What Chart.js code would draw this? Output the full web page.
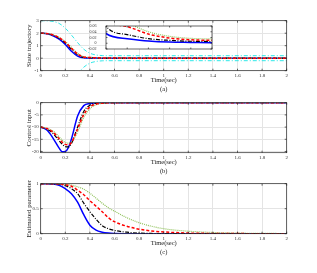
<!DOCTYPE html>
<html>
<head>
<meta charset="utf-8">
<title>State trajectory, control input and estimated parameter</title>
<script src="https://cdn.jsdelivr.net/npm/chart.js"></script>
<style>
  body { margin: 0; background: #fff; }
  #wrap { position: relative; width: 317px; height: 273px; overflow: hidden; }
  canvas { position: absolute; left: 0; }
</style>
</head>
<body>
<div id="wrap">
  <canvas id="chartA" width="317" height="93" style="top:0px"></canvas>
  <canvas id="chartB" width="317" height="93" style="top:82px"></canvas>
  <canvas id="chartC" width="317" height="93" style="top:163px"></canvas>
  <canvas id="inset" width="140" height="36" style="left:80px;top:20px"></canvas>
</div>
<script>
// ---- data ----
// (a) state trajectories and the prescribed bounds
const tA = [0, 0.05, 0.1, 0.15, 0.2, 0.25, 0.3, 0.35, 0.4, 0.45, 0.5, 0.55, 0.6, 0.7, 0.8, 1, 1.5, 2];
const blueA  = [2, 1.95, 1.8, 1.52, 1.1, 0.55, 0.17, 0.034, 0.016, 0.008, 0.004, 0.003, 0.002, 0.001, 0, 0, 0, 0];
const blackA = [2, 1.96, 1.84, 1.6, 1.22, 0.72, 0.28, 0.059, 0.03, 0.016, 0.01, 0.007, 0.006, 0.004, 0.002, 0.001, 0, 0];
const redA   = [2, 1.97, 1.86, 1.64, 1.28, 0.8, 0.34, 0.09, 0.058, 0.032, 0.018, 0.012, 0.01, 0.007, 0.005, 0.003, 0.001, 0];
const greenA = [2, 1.97, 1.87, 1.66, 1.32, 0.86, 0.4, 0.11, 0.07, 0.04, 0.024, 0.017, 0.015, 0.012, 0.01, 0.007, 0.003, 0.001];
const boundUpA  = [3, 2.99, 2.94, 2.78, 2.4, 1.85, 1.25, 0.72, 0.4, 0.26, 0.21, 0.2, 0.2, 0.2, 0.2, 0.2, 0.2, 0.2];
const boundLowA = [-3, -2.99, -2.94, -2.78, -2.4, -1.85, -1.25, -0.72, -0.4, -0.26, -0.21, -0.2, -0.2, -0.2, -0.2, -0.2, -0.2, -0.2];

// (b) control input
const tB = [0, 0.05, 0.1, 0.15, 0.175, 0.2, 0.225, 0.25, 0.3, 0.35, 0.4, 0.45, 0.5, 0.6, 1, 2];
const blueB  = [-10, -11.2, -14.5, -18.6, -20.1, -20, -18.4, -14.9, -5.5, -1.2, -0.3, -0.1, 0, 0, 0, 0];
const blackB = [-10, -10.8, -12.6, -15.6, -17, -18, -18.1, -16.7, -10, -3.6, -1, -0.3, -0.1, 0, 0, 0];
const redB   = [-10, -10.6, -12.1, -14.8, -16.2, -17.1, -17.3, -16.3, -10.8, -4.9, -1.7, -0.6, -0.2, 0, 0, 0];
const greenB = [-10, -10.5, -11.6, -14, -15.4, -16.3, -16.6, -16, -12, -6, -2.5, -0.9, -0.3, -0.05, 0, 0];

// (c) estimated parameter
const tC = [0, 0.1, 0.15, 0.2, 0.25, 0.3, 0.35, 0.4, 0.45, 0.5, 0.55, 0.6, 0.7, 0.8, 0.9, 1, 1.2, 1.4, 1.6, 2];
const blueC  = [1, 0.995, 0.97, 0.9, 0.8, 0.63, 0.38, 0.17, 0.07, 0.03, 0.012, 0.005, 0.001, 0, 0, 0, 0, 0, 0, 0];
const blackC = [1, 0.998, 0.99, 0.96, 0.9, 0.8, 0.61, 0.44, 0.29, 0.16, 0.1, 0.065, 0.03, 0.012, 0.005, 0.002, 0, 0, 0, 0];
const redC   = [1, 0.999, 0.995, 0.98, 0.95, 0.87, 0.78, 0.66, 0.55, 0.44, 0.32, 0.24, 0.15, 0.09, 0.055, 0.035, 0.013, 0.005, 0.002, 0];
const greenC = [1, 1, 0.998, 0.99, 0.97, 0.94, 0.89, 0.81, 0.71, 0.61, 0.52, 0.45, 0.32, 0.22, 0.15, 0.1, 0.05, 0.025, 0.012, 0.003];

// tick values
const xTicks = [0, 0.2, 0.4, 0.6, 0.8, 1, 1.2, 1.4, 1.6, 1.8, 2];
const yTicksA = [-1, 0, 1, 2, 3];
const yTicksB = [-20, -15, -10, -5, 0];
const yTicksC = [0, 0.5, 1];
const insetXTicks = [0.35, 0.4, 0.45, 0.5, 0.55, 0.6];
const insetYTicks = [-0.02, 0, 0.02, 0.04, 0.06];

// ---- styling ----
const serif = "'Liberation Serif', 'DejaVu Serif', serif";
const styles = {
  blue:  { borderColor: '#0000ff', borderWidth: 1.5, borderDash: [] },
  black: { borderColor: '#000000', borderWidth: 1.2, borderDash: [4, 1.5, 1, 1.5] },
  red:   { borderColor: '#ff0000', borderWidth: 1.5, borderDash: [3, 2] },
  green: { borderColor: '#8fc15a', borderWidth: 1.2, borderDash: [1, 1] },
  bound: { borderColor: '#2ee8e8', borderWidth: 1, borderDash: [4, 2, 1, 2] }
};

function pts(t, v) {
  return t.map((x, i) => ({ x: x, y: v[i] }));
}

function line(t, v, style) {
  return Object.assign({
    data: pts(t, v),
    pointRadius: 0,
    fill: false,
    cubicInterpolationMode: 'monotone'
  }, styles[style]);
}

// box around the axes with inward tick marks, like the original figure
const boxPlugin = {
  id: 'box',
  beforeDraw(chart, args, opts) {
    if (!opts.fill) return;
    const a = chart.chartArea, ctx = chart.ctx;
    ctx.save();
    ctx.fillStyle = '#fff';
    ctx.fillRect(a.left, a.top, a.right - a.left, a.bottom - a.top);
    ctx.restore();
  },
  afterDraw(chart, args, opts) {
    const a = chart.chartArea, ctx = chart.ctx, L = opts.tick;
    const sx = chart.scales.x, sy = chart.scales.y;
    ctx.save();
    ctx.strokeStyle = '#262626';
    ctx.lineWidth = 0.7;
    ctx.strokeRect(a.left, a.top, a.right - a.left, a.bottom - a.top);
    ctx.beginPath();
    sx.ticks.forEach(t => {
      const p = sx.getPixelForValue(t.value);
      ctx.moveTo(p, a.bottom); ctx.lineTo(p, a.bottom - L);
      ctx.moveTo(p, a.top); ctx.lineTo(p, a.top + L);
    });
    sy.ticks.forEach(t => {
      const p = sy.getPixelForValue(t.value);
      ctx.moveTo(a.left, p); ctx.lineTo(a.left + L, p);
      ctx.moveTo(a.right, p); ctx.lineTo(a.right - L, p);
    });
    ctx.stroke();
    ctx.restore();
  }
};

const fmt = v => String(+Number(v).toFixed(2));

function panel(id, datasets, yMin, yMax, yTicks, yTitle, caption) {
  return new Chart(document.getElementById(id), {
    type: 'line',
    data: { datasets: datasets },
    plugins: [boxPlugin],
    options: {
      responsive: false,
      animation: false,
      layout: { padding: { top: 20.7, right: 30.3, left: 0, bottom: 0 } },
      plugins: {
        legend: { display: false },
        tooltip: { enabled: false },
        box: { tick: 2, fill: false }
      },
      scales: {
        x: {
          type: 'linear', min: 0, max: 2,
          afterBuildTicks: s => { s.ticks = xTicks.map(v => ({ value: v })); },
          afterFit: s => { s.height = 22.3; },
          grid: { color: '#e4e4e4', drawTicks: false },
          border: { display: false },
          ticks: { font: { family: serif, size: 5 }, color: '#333', padding: 2, maxRotation: 0, autoSkip: false, callback: fmt },
          title: { display: true, text: ['Time(sec)', caption], color: '#222', padding: 0,
                   font: { family: serif, size: 6.5, lineHeight: '8.2px' } }
        },
        y: {
          type: 'linear', min: yMin, max: yMax,
          afterBuildTicks: s => { s.ticks = yTicks.map(v => ({ value: v })); },
          afterFit: s => { s.width = 40.7; },
          grid: { color: '#e4e4e4', drawTicks: false },
          border: { display: false },
          ticks: { font: { family: serif, size: 5 }, color: '#333', padding: 2, autoSkip: false, callback: fmt },
          title: { display: true, text: yTitle, color: '#222', padding: { top: 25, bottom: 0 },
                   font: { family: serif, size: 7, lineHeight: '8px' } }
        }
      }
    }
  });
}

panel('chartA', [
  line(tA, redA, 'red'),
  line(tA, greenA, 'green'),
  line(tA, blackA, 'black'),
  line(tA, blueA, 'blue'),
  line(tA, boundUpA, 'bound'),
  line(tA, boundLowA, 'bound')
], -1, 3, yTicksA, 'State trajectory', '(a)');

panel('chartB', [
  line(tB, redB, 'red'),
  line(tB, greenB, 'green'),
  line(tB, blackB, 'black'),
  line(tB, blueB, 'blue')
], -20.5, 0, yTicksB, 'Control input', '(b)');

panel('chartC', [
  line(tC, redC, 'red'),
  line(tC, greenC, 'green'),
  line(tC, blackC, 'black'),
  line(tC, blueC, 'blue')
], 0, 1, yTicksC, 'Estimated parameter', '(c)');

// zoomed inset of panel (a)
new Chart(document.getElementById('inset'), {
  type: 'line',
  data: { datasets: [
    line(tA, redA, 'red'),
    line(tA, greenA, 'green'),
    line(tA, blackA, 'black'),
    line(tA, blueA, 'blue')
  ] },
  plugins: [boxPlugin],
  options: {
    responsive: false,
    animation: false,
    layout: { padding: { top: 6, right: 8, left: 0, bottom: 0 } },
    plugins: {
      legend: { display: false },
      tooltip: { enabled: false },
      box: { tick: 1.5, fill: true }
    },
    scales: {
      x: {
        type: 'linear', min: 0.35, max: 0.6,
        afterBuildTicks: s => { s.ticks = insetXTicks.map(v => ({ value: v })); },
        afterFit: s => { s.height = 7; },
        grid: { display: false },
        border: { display: false },
        ticks: { font: { family: serif, size: 4 }, color: '#333', padding: 1, maxRotation: 0, autoSkip: false, callback: fmt }
      },
      y: {
        type: 'linear', min: -0.02, max: 0.06,
        afterBuildTicks: s => { s.ticks = insetYTicks.map(v => ({ value: v })); },
        afterFit: s => { s.width = 26; },
        grid: { display: false },
        border: { display: false },
        ticks: { font: { family: serif, size: 4 }, color: '#333', padding: 1.5, autoSkip: false, callback: fmt }
      }
    }
  }
});
</script>
</body>
</html>
